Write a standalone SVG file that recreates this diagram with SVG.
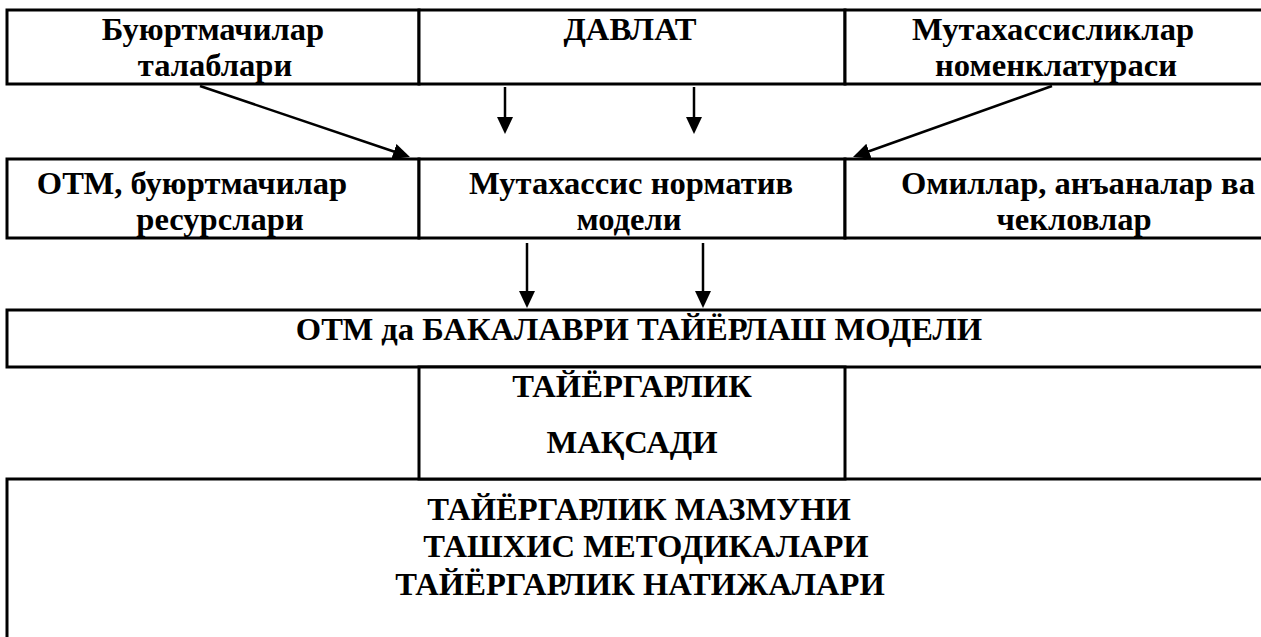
<svg xmlns="http://www.w3.org/2000/svg" width="1261" height="637" viewBox="0 0 1261 637">
<style>
.box{fill:#fff;stroke:#000;stroke-width:3}
.t{font-weight:bold;font-size:32.6px;fill:#000;text-anchor:middle}
.c{stroke:#000;stroke-width:2.5;fill:none}
</style>
<defs>
<marker id="ah" markerUnits="userSpaceOnUse" markerWidth="18" markerHeight="16" refX="3" refY="8" orient="auto">
<path d="M0,0 L17,8 L0,16 z" fill="#000"/>
</marker>
</defs>
<rect width="1261" height="637" fill="#fff"/>
<g font-family="'Liberation Serif', 'DejaVu Serif', serif">
<g id="n1"><rect class="box" x="7" y="10" width="412" height="74"/><text class="t" x="213" y="40">Буюртмачилар</text><text class="t" x="215" y="76">талаблари</text></g>
<g id="n2"><rect class="box" x="419" y="10" width="426" height="74"/><text class="t" x="630" y="40">ДАВЛАТ</text></g>
<g id="n3"><rect class="box" x="845" y="10" width="430" height="74"/><text class="t" x="1053" y="40">Мутахассисликлар</text><text class="t" x="1056" y="76">номенклатураси</text></g>
<g id="n4"><rect class="box" x="7" y="159" width="412" height="79"/><text class="t" x="192" y="194">ОТМ, буюртмачилар</text><text class="t" x="220" y="230">ресурслари</text></g>
<g id="n5"><rect class="box" x="419" y="159" width="426" height="79"/><text class="t" x="631" y="194">Мутахассис норматив</text><text class="t" x="629" y="230">модели</text></g>
<g id="n6"><rect class="box" x="845" y="159" width="430" height="79"/><text class="t" x="1078" y="194">Омиллар, анъаналар ва</text><text class="t" x="1074" y="230">чекловлар</text></g>
<g id="n7"><rect class="box" x="7" y="310" width="1275" height="57"/><text class="t" x="639" y="340">ОТМ да БАКАЛАВРИ ТАЙЁРЛАШ МОДЕЛИ</text></g>
<g id="n9"><rect class="box" x="7" y="479" width="1275" height="200"/><text class="t" x="639" y="520">ТАЙЁРГАРЛИК МАЗМУНИ</text><text class="t" x="646" y="557">ТАШХИС МЕТОДИКАЛАРИ</text><text class="t" x="640" y="595">ТАЙЁРГАРЛИК НАТИЖАЛАРИ</text></g>
<g id="n8"><rect class="box" x="419" y="367" width="426" height="112"/><text class="t" x="632" y="397">ТАЙЁРГАРЛИК</text><text class="t" x="632" y="453">МАҚСАДИ</text></g>
</g>
<g id="connectors">
<line class="c" x1="200" y1="86" x2="396.7" y2="152.5" marker-end="url(#ah)"/>
<line class="c" x1="1052" y1="86" x2="866.2" y2="152.3" marker-end="url(#ah)"/>
<line class="c" x1="505" y1="87" x2="505" y2="120" marker-end="url(#ah)"/>
<line class="c" x1="694" y1="87" x2="694" y2="120" marker-end="url(#ah)"/>
<line class="c" x1="527" y1="243" x2="527" y2="294" marker-end="url(#ah)"/>
<line class="c" x1="703" y1="243" x2="703" y2="294" marker-end="url(#ah)"/>
</g>
</svg>
